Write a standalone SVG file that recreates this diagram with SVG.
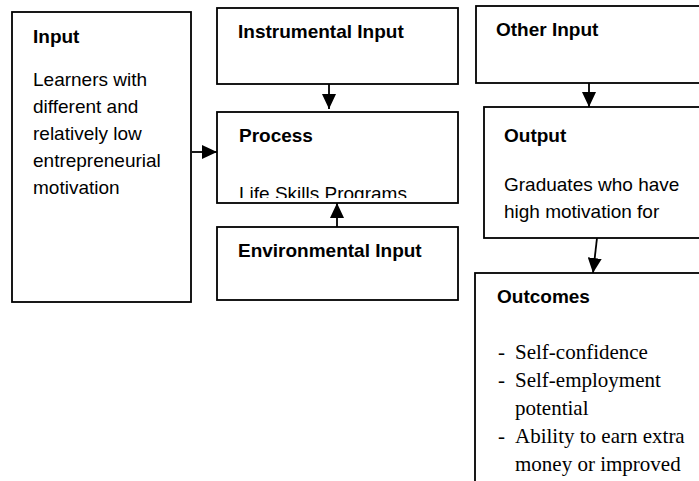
<svg xmlns="http://www.w3.org/2000/svg" width="699" height="481" viewBox="0 0 699 481">
<style>
.box{fill:#fff;stroke:#000;stroke-width:1.8}
.t{font-family:"Liberation Sans",Arial,sans-serif;font-size:19px;fill:#000}
.b{font-weight:bold}
.s{font-family:"Liberation Serif","Times New Roman",serif;font-size:21px;fill:#000}
.ln{stroke:#000;stroke-width:1.8;fill:none}
</style>
<defs>
<marker id="ah" viewBox="0 0 15 14" refX="15" refY="7" markerWidth="15" markerHeight="14" markerUnits="userSpaceOnUse" orient="auto">
<path d="M0,0 L15,7 L0,14 Z" fill="#000"/>
</marker>
<clipPath id="pc"><rect x="217" y="112" width="242" height="86"/></clipPath>
</defs>
<rect width="699" height="481" fill="#fff"/>
<g id="input">
<rect class="box" x="12" y="12" width="179" height="290"/>
<text class="t b" x="33" y="43">Input</text>
<text class="t" x="33" y="86">Learners with</text>
<text class="t" x="33" y="113">different and</text>
<text class="t" x="33" y="140">relatively low</text>
<text class="t" x="33" y="167">entrepreneurial</text>
<text class="t" x="33" y="194">motivation</text>
</g>
<g id="instrumental">
<rect class="box" x="217" y="8" width="241" height="76"/>
<text class="t b" x="238" y="38">Instrumental Input</text>
</g>
<g id="process">
<rect class="box" x="217" y="112" width="241" height="91"/>
<text class="t b" x="239" y="142">Process</text>
<text class="t" x="239" y="200" clip-path="url(#pc)">Life Skills Programs</text>
</g>
<g id="environmental">
<rect class="box" x="217" y="227" width="241" height="73"/>
<text class="t b" x="238" y="257">Environmental Input</text>
</g>
<g id="other">
<rect class="box" x="476" y="6" width="240" height="77"/>
<text class="t b" x="496" y="36">Other Input</text>
</g>
<g id="output">
<rect class="box" x="484" y="107" width="230" height="131"/>
<text class="t b" x="504" y="142">Output</text>
<text class="t" x="504" y="191">Graduates who have</text>
<text class="t" x="504" y="218">high motivation for</text>
</g>
<g id="outcomes">
<rect class="box" x="475" y="273" width="240" height="230"/>
<text class="t b" x="497" y="303">Outcomes</text>
<text class="s" x="498" y="359">-</text><text class="s" x="515" y="359">Self-confidence</text>
<text class="s" x="498" y="387">-</text><text class="s" x="515" y="387">Self-employment</text>
<text class="s" x="515" y="415">potential</text>
<text class="s" x="498" y="443">-</text><text class="s" x="515" y="443">Ability to earn extra</text>
<text class="s" x="515" y="471">money or improved</text>
</g>
<g id="connectors">
<line class="ln" x1="192" y1="152" x2="217" y2="152" marker-end="url(#ah)"/>
<line class="ln" x1="329" y1="84" x2="329" y2="109" marker-end="url(#ah)"/>
<line class="ln" x1="337" y1="227" x2="337" y2="203" marker-end="url(#ah)"/>
<line class="ln" x1="589" y1="83" x2="589" y2="107" marker-end="url(#ah)"/>
<line class="ln" x1="597" y1="238" x2="593" y2="273" marker-end="url(#ah)"/>
</g>
</svg>
